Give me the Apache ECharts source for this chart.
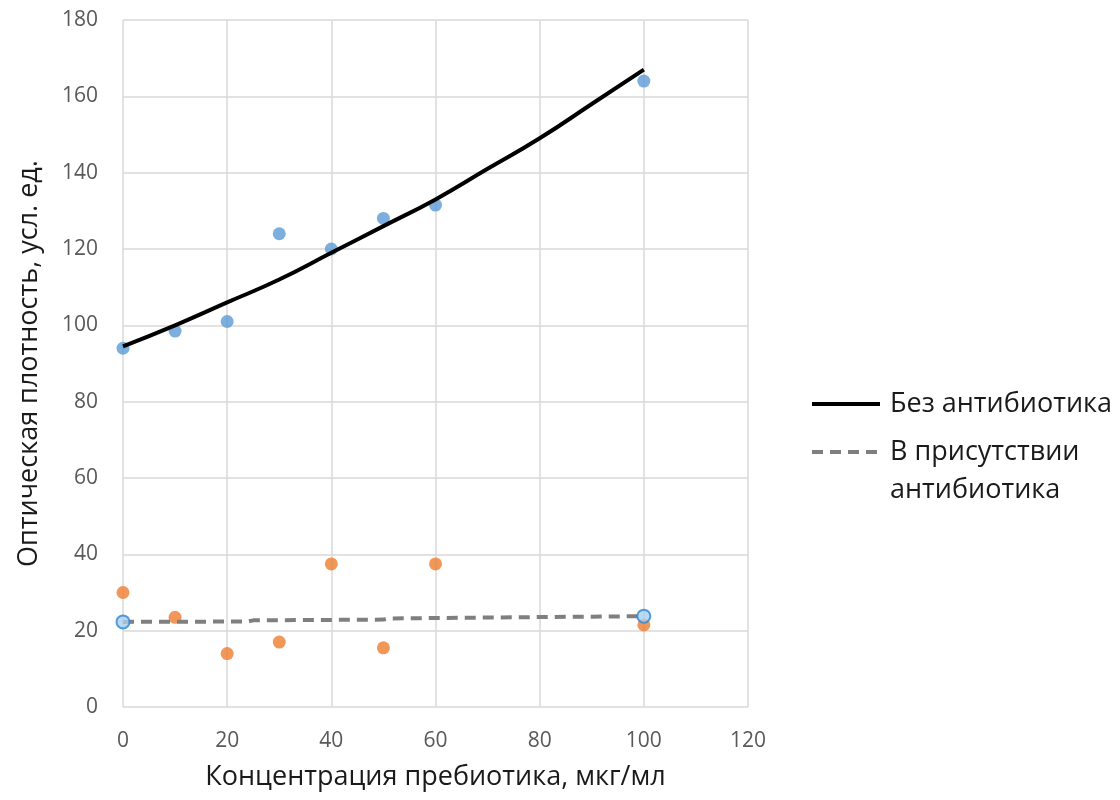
<!DOCTYPE html>
<html>
<head>
<meta charset="utf-8">
<script src="https://cdn.jsdelivr.net/npm/echarts@6/dist/echarts.min.js"></script>
<style>html,body{margin:0;padding:0;background:#fff;}#c{width:1120px;height:800px;}</style>
</head>
<body>
<div id="c"></div>
<script>
var xValues = [0, 10, 20, 30, 40, 50, 60, 100];
var noAntibiotic = [94, 98.5, 101, 124, 120, 128, 131.5, 164];
var withAntibiotic = [30, 23.5, 14, 17, 37.5, 15.5, 37.5, 21.5];
var trendNoX = [0, 10, 20, 30, 40, 50, 60, 70, 80, 90, 100];
var trendNoY = [94.5, 100, 106, 112, 119, 126, 133, 141, 149, 158, 167];
var trendWithX = [0, 24, 25, 50, 51, 100];
var trendWithY = [22.3, 22.4, 22.7, 22.9, 23.2, 23.8];
var endX = [0, 100];
var endY = [22.3, 23.8];
var xTicks = [0, 20, 40, 60, 80, 100, 120];
var yTicks = [0, 20, 40, 60, 80, 100, 120, 140, 160, 180];
var legendNames = ['Без антибиотика', 'В присутствии\nантибиотика'];

function pairs(xs, ys) { return xs.map(function (x, i) { return [x, ys[i]]; }); }

var chart = echarts.init(document.getElementById('c'));
var tickFont = { color: '#595959', fontSize: 21, fontFamily: 'Open Sans' };
var titleFont = { color: '#1a1a1a', fontSize: 27, fontFamily: 'Open Sans' };
chart.setOption({
  animation: false,
  backgroundColor: '#fff',
  grid: { left: 123, right: 372, top: 20, bottom: 93 },
  xAxis: {
    type: 'value', min: xTicks[0], max: xTicks[xTicks.length - 1], interval: 20,
    name: 'Концентрация пребиотика, мкг/мл', nameLocation: 'middle', nameGap: 57,
    nameTextStyle: titleFont,
    axisLine: { show: false }, axisTick: { show: false },
    axisLabel: Object.assign({ margin: 24 }, tickFont),
    splitLine: { show: true, lineStyle: { color: '#d9d9d9', width: 1.5 } }
  },
  yAxis: {
    type: 'value', min: yTicks[0], max: yTicks[yTicks.length - 1], interval: 20,
    name: 'Оптическая плотность, усл. ед.', nameLocation: 'middle', nameGap: 80,
    nameTextStyle: titleFont,
    axisLine: { show: false }, axisTick: { show: false },
    axisLabel: Object.assign({ margin: 25 }, tickFont),
    splitLine: { show: true, lineStyle: { color: '#d9d9d9', width: 1.5 } }
  },
  series: [
    { type: 'scatter', data: pairs(xValues, noAntibiotic), symbolSize: 13, itemStyle: { color: '#5B9BD5' }, z: 2 },
    { type: 'scatter', data: pairs(xValues, withAntibiotic), symbolSize: 13, itemStyle: { color: '#ED7D31' }, z: 2 },
    { name: legendNames[0], type: 'line', data: pairs(trendNoX, trendNoY), showSymbol: false, smooth: true,
      lineStyle: { color: '#000', width: 4 }, z: 3 },
    { name: legendNames[1], type: 'line', data: pairs(trendWithX, trendWithY), showSymbol: false,
      lineStyle: { color: '#7f7f7f', width: 4, type: [11, 7] }, z: 3 },
    { type: 'scatter', data: pairs(endX, endY), symbolSize: 13,
      itemStyle: { color: '#a9d0f0', borderColor: '#2f86d6', borderWidth: 2 }, z: 4 }
  ],
  graphic: [
    { type: 'line', shape: { x1: 812, y1: 404, x2: 880, y2: 404 }, style: { stroke: '#000', lineWidth: 4 } },
    { type: 'text', left: 890, top: 385, style: { text: legendNames[0], fill: '#1a1a1a', fontSize: 27, lineHeight: 38, fontFamily: 'Open Sans' } },
    { type: 'line', shape: { x1: 812, y1: 452, x2: 880, y2: 452 }, style: { stroke: '#7f7f7f', lineWidth: 4, lineDash: [11, 7] } },
    { type: 'text', left: 890, top: 433, style: { text: legendNames[1], fill: '#1a1a1a', fontSize: 27, lineHeight: 38, fontFamily: 'Open Sans' } }
  ]
});
</script>
</body>
</html>
